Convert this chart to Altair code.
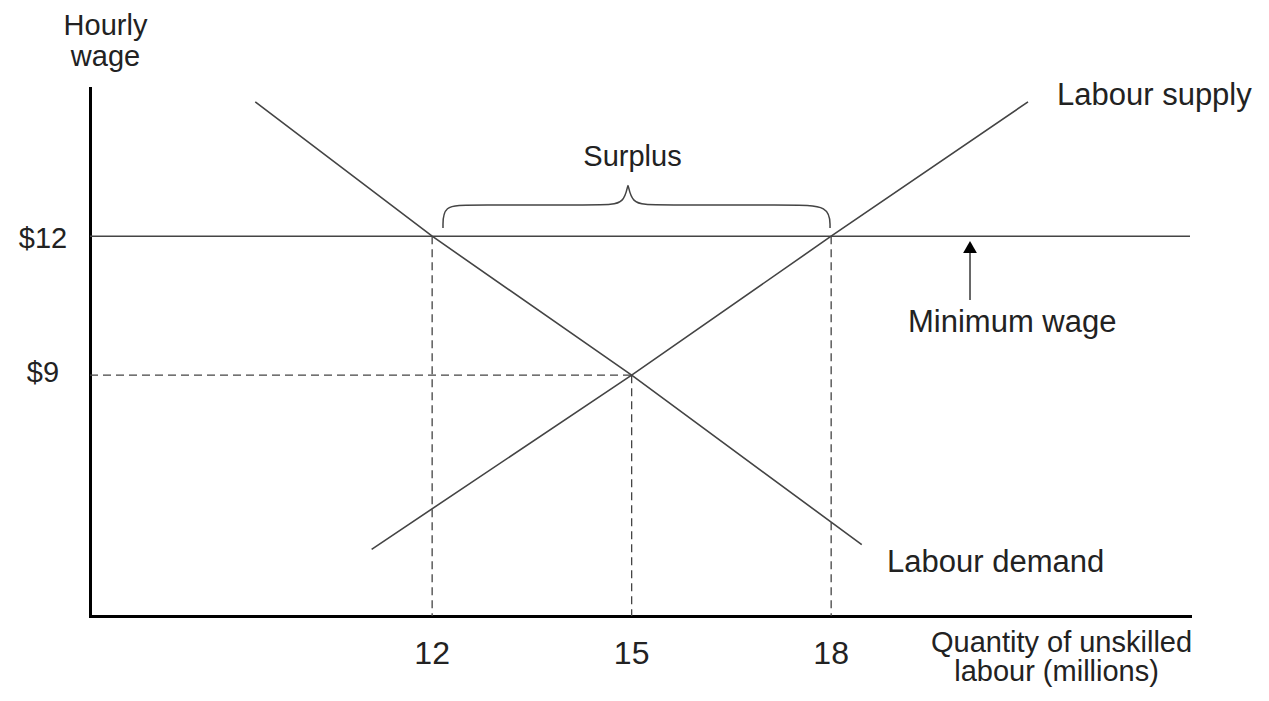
import altair as alt
import pandas as pd

# ---- data ----
x_domain = [6.855, 23.396]
y_domain = [3.8, 15.2]

demand_x = [9.34, 12, 15, 18.46]
demand_y = [14.90, 12, 9, 5.34]

supply_x = [11.09, 15, 18, 20.96]
supply_y = [5.24, 9, 12, 14.9]

min_wage = 12
eq_wage = 9
quantities = [12, 15, 18]
quantity_wage = [12, 9, 12]

brace_x = [12.163, 12.163, 12.569, 14.524, 14.915, 14.945, 14.975, 15.366, 17.381, 17.983, 17.983]
brace_y = [12.178, 12.675, 12.675, 12.675, 12.675, 13.301, 12.675, 12.675, 12.675, 12.675, 12.178]

arrow_x = 20.088
arrow_y0 = 10.624
arrow_y1 = 11.72
arrow_head_y = 11.768

center_text = ["Hourly", "wage", "$12", "$9", "Surplus"]
center_x = [7.088, 7.088, 6.148, 6.148, 15.013]
center_y = [16.344, 15.675, 11.747, 8.854, 13.516]

xtitle_text = ["Quantity of unskilled", "labour (millions)"]
xtitle_x = [21.464, 21.389]
xtitle_y = [3.027, 2.401]

left_text = ["Labour supply", "Minimum wage", "Labour demand"]
left_x = [21.396, 19.156, 18.840]
left_y = [14.833, 9.934, 4.753]

tick_labels = ["12", "15", "18"]
tick_label_y = 2.767

FONT = "Liberation Sans"
LINE = "#444444"
TEXT = "#222222"

xs = alt.Scale(domain=x_domain, nice=False, zero=False)
ys = alt.Scale(domain=y_domain, nice=False, zero=False)
xax = alt.Axis(title=None, labels=False, ticks=False, grid=False, domainWidth=3,
               domainColor="black", domainCap="square")
yax = alt.Axis(title=None, labels=False, ticks=False, grid=False, domainWidth=3,
               domainColor="black", domainCap="square")


def X(f="x"):
    return alt.X(f, type="quantitative", scale=xs, axis=xax)


def Y(f="y"):
    return alt.Y(f, type="quantitative", scale=ys, axis=yax)


curves = pd.DataFrame({
    "x": demand_x + supply_x,
    "y": demand_y + supply_y,
    "curve": ["demand"] * len(demand_x) + ["supply"] * len(supply_x),
})
curve_layer = alt.Chart(curves).mark_line(color=LINE, strokeWidth=1.6).encode(
    x=X(), y=Y(), detail="curve:N")

mw = pd.DataFrame({"x": [x_domain[0]], "x2": [x_domain[1]], "y": [min_wage]})
mw_layer = alt.Chart(mw).mark_rule(color=LINE, strokeWidth=1.6).encode(
    x=X(), x2="x2:Q", y=Y())

dash_df = pd.DataFrame({
    "x": [x_domain[0]] + quantities,
    "x2": [15] + quantities,
    "y": [eq_wage] + quantity_wage,
    "y2": [eq_wage] + [y_domain[0]] * 3,
})
dash_layer = alt.Chart(dash_df).mark_rule(color=LINE, strokeWidth=1.3, strokeDash=[8, 5]).encode(
    x=X(), x2="x2:Q", y=Y(), y2="y2:Q")

brace_df = pd.DataFrame({"x": brace_x, "y": brace_y, "i": list(range(len(brace_x)))})
brace_layer = alt.Chart(brace_df).mark_line(color=LINE, strokeWidth=1.5, interpolate="basis").encode(
    x=X(), y=Y(), order="i:Q")

arrow_df = pd.DataFrame({"x": [arrow_x], "y": [arrow_y0], "y2": [arrow_y1]})
arrow_shaft = alt.Chart(arrow_df).mark_rule(color=LINE, strokeWidth=1.6).encode(
    x=X(), y=Y(), y2="y2:Q")
head_df = pd.DataFrame({"x": [arrow_x], "y": [arrow_head_y]})
arrow_head = alt.Chart(head_df).mark_point(shape="triangle-up", filled=True, color="black",
                                           size=190, opacity=1).encode(x=X(), y=Y())

ct = pd.DataFrame({"x": center_x, "y": center_y, "t": center_text})
ct_layer = alt.Chart(ct).mark_text(font=FONT, fontSize=29, color=TEXT, align="center",
                                   baseline="alphabetic").encode(x=X(), y=Y(), text="t:N")

xt = pd.DataFrame({"x": xtitle_x, "y": xtitle_y, "t": xtitle_text})
xt_layer = alt.Chart(xt).mark_text(font=FONT, fontSize=29, color=TEXT, align="center",
                                   baseline="alphabetic").encode(x=X(), y=Y(), text="t:N")

lt = pd.DataFrame({"x": left_x, "y": left_y, "t": left_text})
lt_layer = alt.Chart(lt).mark_text(font=FONT, fontSize=31, color=TEXT, align="left",
                                   baseline="alphabetic").encode(x=X(), y=Y(), text="t:N")

tk = pd.DataFrame({"x": quantities, "y": [tick_label_y] * 3, "t": tick_labels})
tk_layer = alt.Chart(tk).mark_text(font=FONT, fontSize=32, color=TEXT, align="center",
                                   baseline="alphabetic").encode(x=X(), y=Y(), text="t:N")

chart = alt.layer(
    mw_layer, dash_layer, curve_layer, brace_layer, arrow_shaft, arrow_head,
    ct_layer, xt_layer, lt_layer, tk_layer,
).properties(
    width=1100, height=528,
    padding={"left": 82, "top": 80, "right": 71, "bottom": 72},
    autosize=alt.AutoSizeParams(type="none"),
    background="white",
).configure_view(stroke=None)

chart.save("out.html", embed_options={"renderer": "svg", "actions": False})
